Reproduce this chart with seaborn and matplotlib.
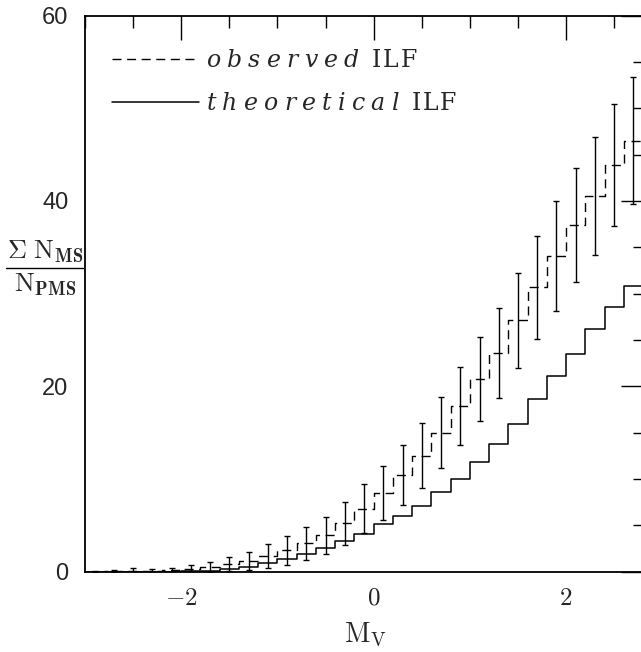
import numpy as np
import pandas as pd
import matplotlib
matplotlib.use("Agg")
import matplotlib.pyplot as plt
from matplotlib.lines import Line2D
from matplotlib.font_manager import FontProperties
from matplotlib.ticker import MultipleLocator
import seaborn as sns

# ---- data ----
mv = [-2.9, -2.7, -2.5, -2.3, -2.1, -1.9, -1.7, -1.5, -1.3, -1.1,
      -0.9, -0.7, -0.5, -0.3, -0.1, 0.1, 0.3, 0.5, 0.7, 0.9,
      1.1, 1.3, 1.5, 1.7, 1.9, 2.1, 2.3, 2.5, 2.7]
observed = [0.02, 0.05, 0.1, 0.1, 0.15, 0.3, 0.5, 0.85, 1.15, 1.7,
            2.3, 3.05, 3.95, 5.2, 6.8, 8.5, 10.4, 12.5, 15.0, 17.9,
            20.8, 23.6, 27.1, 30.7, 34.05, 37.4, 40.5, 43.9, 46.5]
obs_err = [0.05, 0.1, 0.3, 0.2, 0.25, 0.4, 0.55, 0.75, 0.95, 1.3,
           1.55, 1.8, 2.0, 2.3, 2.65, 2.9, 3.25, 3.5, 3.85, 4.2,
           4.55, 4.85, 5.15, 5.55, 5.9, 6.1, 6.35, 6.6, 6.85]
theoretical = [0.0, 0.0, 0.01, 0.01, 0.02, 0.05, 0.12, 0.26, 0.54, 0.9,
               1.33, 1.87, 2.52, 3.27, 4.1, 5.12, 6.04, 7.09, 8.63, 9.97,
               11.87, 13.78, 15.93, 18.6, 21.15, 23.5, 26.2, 28.6, 30.85]
bin_edges = [float(v) for v in np.round(np.linspace(-3.0, 2.8, 30), 2)]
x_ticks = [-2, 0, 2]
x_ticklabels = [r'$-2$', r'$0$', r'$2$']
y_ticks = [0, 20, 40, 60]

df = pd.DataFrame({'mv': mv, 'observed': observed, 'err': obs_err, 'theoretical': theoretical})

sns.set_style("white")
plt.rcParams['mathtext.fontset'] = 'cm'
plt.rcParams['font.family'] = ['Liberation Sans', 'DejaVu Sans']
plt.rcParams['lines.scale_dashes'] = False

W, H = 641, 652
fig = plt.figure(figsize=(W / 100, H / 100), dpi=100)
left_px, right_px, top_px, bot_px = 85, 645, 15.5, 571.7
ax = fig.add_axes([left_px / W, 1 - bot_px / H, (right_px - left_px) / W, (bot_px - top_px) / H])

dash = (0, (6.5, 4.0))
sns.histplot(data=df, x='mv', weights='observed', bins=bin_edges, element='step', fill=False,
             color='black', linewidth=1.0, linestyle=dash, ax=ax)
sns.histplot(data=df, x='mv', weights='theoretical', bins=bin_edges, element='step', fill=False,
             color='black', linewidth=1.1, ax=ax)
ax.errorbar(df['mv'], df['observed'], yerr=df['err'], fmt='none', ecolor='black',
            elinewidth=1.0, capsize=2.5, capthick=1.0)

ax.set_xlim(-3.0, 2.82)
ax.set_ylim(0, 60)
ax.set_xticks(x_ticks)
ax.set_xticklabels(x_ticklabels)
ax.xaxis.set_minor_locator(MultipleLocator(0.5))
ax.set_yticks(y_ticks)
ax.yaxis.set_minor_locator(MultipleLocator(5))
ax.tick_params(which='both', direction='in', top=True, right=True, color='black', width=1.0)
ax.tick_params(which='major', length=17)
ax.tick_params(which='minor', length=8.5)
ax.tick_params(axis='x', which='major', labelsize=18, pad=10)
ax.tick_params(axis='y', which='major', labelsize=17, pad=12)
for s in ax.spines.values():
    s.set_linewidth(1.3)
    s.set_color('black')

ax.set_ylabel('')
ax.set_xlabel(r'$\mathrm{M}_{\mathrm{V}}$', fontsize=20, labelpad=8)

# y label drawn as a fraction: numerator, bar, denominator
ycen = 1 - 268 / H
fig.text(45 / W, ycen + 3 / H, r'$\Sigma\ \mathrm{N}_{\mathbf{MS}}$',
         ha='center', va='bottom', fontsize=19)
fig.text(45 / W, ycen - 4 / H, r'$\mathrm{N}_{\mathbf{PMS}}$',
         ha='center', va='top', fontsize=19)
fig.add_artist(Line2D([6 / W, 83 / W], [ycen, ycen], color='black', linewidth=1.0,
                      transform=fig.transFigure))


def spaced(word, style, gap):
    parts = [r'\%s{%s}' % (style, ch) for ch in word]
    return (r'\hspace{%s}' % gap).join(parts)


lab_obs = '$' + spaced('observed', 'mathit', 0.28) + r'\hspace{0.55}' + spaced('ILF', 'mathrm', 0.08) + '$'
lab_theo = '$' + spaced('theoretical', 'mathit', 0.28) + r'\hspace{0.55}' + spaced('ILF', 'mathrm', 0.08) + '$'
handles = [Line2D([], [], color='black', linewidth=1.0, linestyle=dash),
           Line2D([], [], color='black', linewidth=1.1)]
leg_font = FontProperties(size=17, math_fontfamily='dejavuserif')
ax.legend(handles, [lab_obs, lab_theo], loc='upper left', frameon=False,
          prop=leg_font, handlelength=3.7, handletextpad=0.3, labelspacing=0.9,
          borderaxespad=0.0, borderpad=0.0,
          bbox_to_anchor=((112 - left_px) / (right_px - left_px), 1 - (50 - top_px) / (bot_px - top_px)))

fig.savefig('out.png', dpi=100)
